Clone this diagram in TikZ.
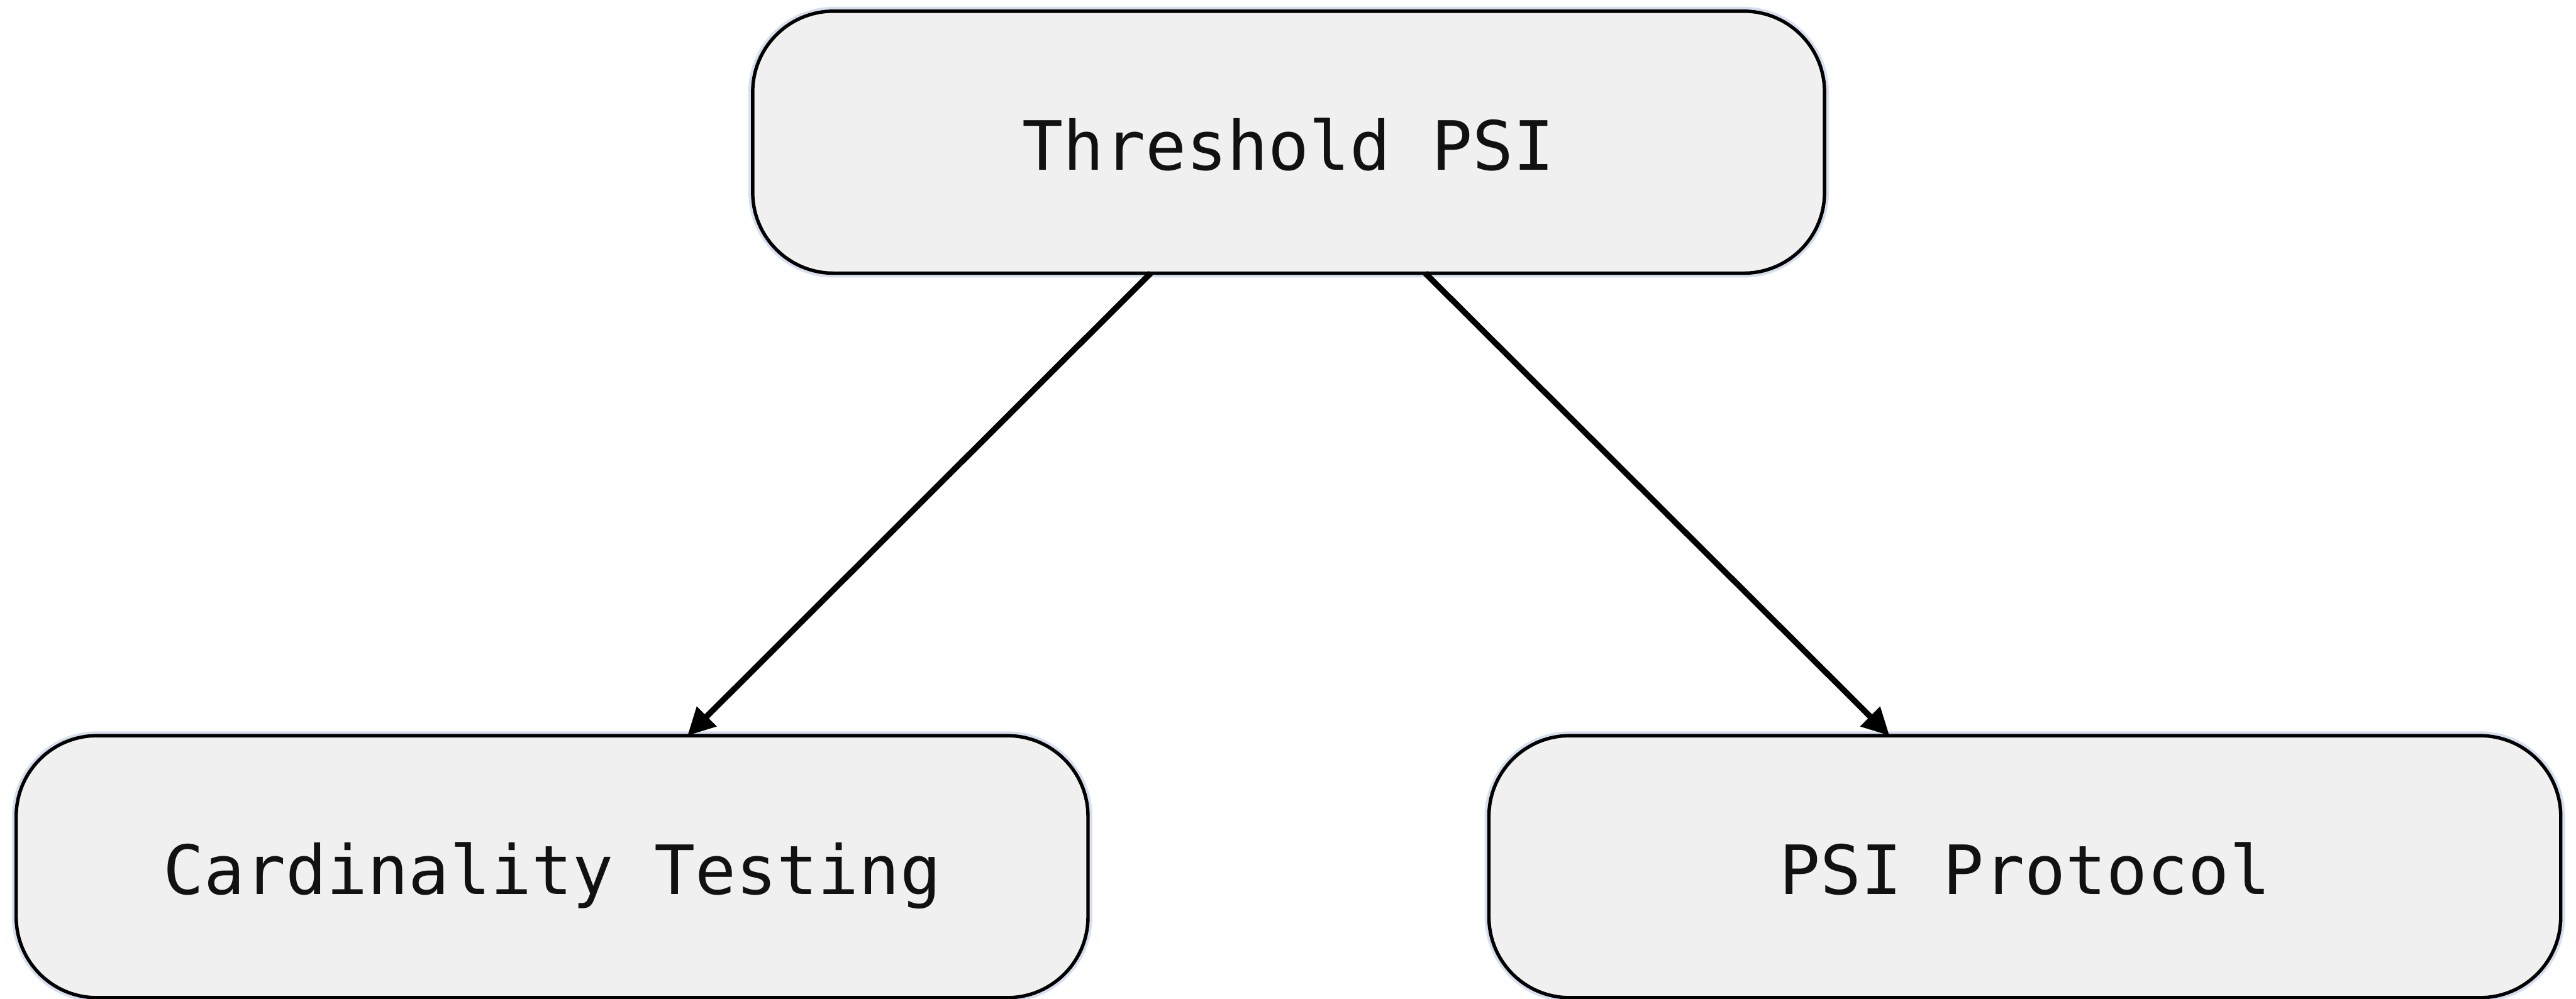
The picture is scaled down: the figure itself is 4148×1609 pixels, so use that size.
\documentclass[tikz,border=0pt]{standalone}
\usepackage{fontspec}
\setmonofont{DejaVu Sans Mono}
\usetikzlibrary{arrows.meta}
\definecolor{boxfill}{HTML}{F0F0F0}
\definecolor{glowcol}{HTML}{D6DFF0}
\definecolor{textcol}{HTML}{111111}
\begin{document}
\begin{tikzpicture}[x=0.1pt,y=-0.1pt,
  boxnode/.style={draw=black, line width=0.55pt, fill=boxfill,
    rounded corners=13pt, minimum width=172.6pt, minimum height=42.2pt,
    inner sep=0pt, outer sep=0pt,
    preaction={draw=glowcol, line width=1.4pt},
    font=\ttfamily\fontsize{10.95pt}{13pt}\selectfont, text=textcol,
    text height=9pt, text depth=0pt},
  conn/.style={draw=black, line width=0.95pt,
    -{Triangle[length=4.4pt,width=4.3pt]}}]
\useasboundingbox (0,0) rectangle (4148,1609);
\node[boxnode] (top) at (2075,229) {Threshold PSI};
\node[boxnode] (cl) at (889,1396) {Cardinality Testing};
\node[boxnode] (cr) at (3260.5,1396) {PSI Protocol};
\draw[conn] ([xshift=-22.2pt]top.south) -- ([xshift=21.8pt]cl.north);
\draw[conn] ([xshift=22pt]top.south) -- ([xshift=-21.8pt]cr.north);
\end{tikzpicture}
\end{document}
